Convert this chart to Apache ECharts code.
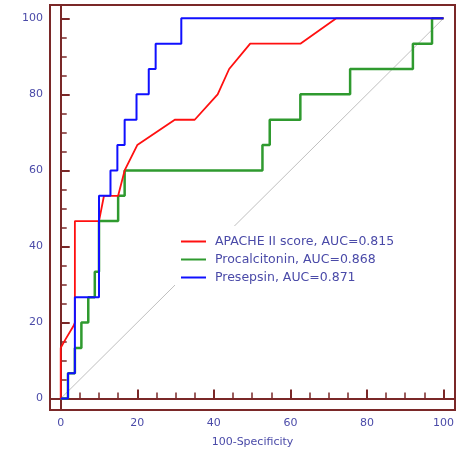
<!DOCTYPE html>
<html>
<head>
<meta charset="utf-8">
<script src="https://cdn.jsdelivr.net/npm/echarts@6/dist/echarts.min.js"></script>
<style>html,body{margin:0;padding:0;background:#fff;}#c{width:459px;height:451px;}</style>
</head>
<body>
<div id="c"></div>
<script>
// ROC curve data (x = 100-Specificity, y = Sensitivity)
const apacheX = [0, 0, 1.2, 3.4, 3.7, 3.7, 10, 11.3, 15, 16.7, 20, 29.8, 35, 41, 44, 49.5, 62.6, 72, 100];
const apacheY = [0, 13.33, 15.5, 19.2, 20, 46.67, 46.67, 53.33, 53.33, 60, 66.67, 73.33, 73.33, 80, 86.67, 93.33, 93.33, 100, 100];

const pctX = [0, 1.9, 1.9, 3.7, 3.7, 5.4, 5.4, 7.2, 7.2, 8.9, 8.9, 10, 10, 15, 15, 16.7, 16.7, 52.7, 52.7, 54.6, 54.6, 62.6, 62.6, 75.6, 75.6, 92, 92, 97, 97, 100];
const pctY = [0, 0, 6.67, 6.67, 13.33, 13.33, 20, 20, 26.67, 26.67, 33.33, 33.33, 46.67, 46.67, 53.33, 53.33, 60, 60, 66.67, 66.67, 73.33, 73.33, 80, 80, 86.67, 86.67, 93.33, 93.33, 100, 100];

const presX = [0, 1.9, 1.9, 3.7, 3.7, 10, 10, 13, 13, 14.8, 14.8, 16.7, 16.7, 19.8, 19.8, 23, 23, 24.8, 24.8, 31.5, 31.5, 100];
const presY = [0, 0, 6.67, 6.67, 26.67, 26.67, 53.33, 53.33, 60, 60, 66.67, 66.67, 73.33, 73.33, 80, 80, 86.67, 86.67, 93.33, 93.33, 100, 100];

const diagX = [0, 100];
const diagY = [0, 100];

const majorTicks = [0, 20, 40, 60, 80, 100];
const minorTicks = [5, 10, 15, 25, 30, 35, 45, 50, 55, 65, 70, 75, 85, 90, 95];

const seriesNames = ['APACHE II score, AUC=0.815', 'Procalcitonin, AUC=0.868', 'Presepsin, AUC=0.871'];
const xTitle = '100-Specificity';

function pairs(xs, ys) { return xs.map((x, i) => [x, ys[i]]); }

const frame = '#7a2828';
const txt = '#4a4aa8';
const font = 'DejaVu Sans';

function mkAxis(type, idx) {
  const isX = type === 'x';
  const base = {
    type: 'value', min: isX ? -2.8 : -3, max: isX ? 103 : 103.5,
    gridIndex: 0, splitLine: { show: false },
    position: isX ? 'bottom' : 'left'
  };
  if (idx === 0) {
    return Object.assign(base, {
      axisLine: { show: true, lineStyle: { color: frame, width: 2 } },
      axisTick: { show: true, inside: true, length: 9, customValues: majorTicks, lineStyle: { color: frame, width: 2 } },
      axisLabel: { show: true, customValues: majorTicks, color: txt, fontFamily: font, fontSize: 11, margin: isX ? 8 : 7 },
      name: isX ? xTitle : '', nameLocation: 'middle', nameGap: 27,
      nameTextStyle: { color: txt, fontFamily: font, fontSize: 11 }
    });
  }
  return Object.assign(base, {
    axisLine: { show: false },
    axisTick: { show: true, inside: true, length: 6, customValues: minorTicks, lineStyle: { color: frame, width: 1.5 } },
    axisLabel: { show: false }
  });
}

const chart = echarts.init(document.getElementById('c'), null, { renderer: 'canvas' });
chart.setOption({
  animation: false,
  backgroundColor: '#fff',
  grid: { left: 50, right: 4, top: 5, bottom: 41, outerBoundsMode: 'none', containLabel: false,
    show: true, borderColor: frame, borderWidth: 2, backgroundColor: 'transparent' },
  xAxis: [mkAxis('x', 0), mkAxis('x', 1)],
  yAxis: [mkAxis('y', 0), mkAxis('y', 1)],
  legend: {
    data: seriesNames,
    orient: 'vertical',
    left: 175, top: 226,
    padding: [9, 6, 6, 5],
    backgroundColor: '#fff',
    itemWidth: 25, itemHeight: 12, itemGap: 5,
    itemStyle: { color: 'rgba(0,0,0,0)', borderWidth: 0, opacity: 0 },
    textStyle: { color: txt, fontFamily: font, fontSize: 12.5, padding: [0, 0, 0, 4] }
  },
  series: [
    { type: 'line', name: 'diag', data: pairs(diagX, diagY), showSymbol: false, symbol: 'none', silent: true,
      lineStyle: { color: '#c0c0c0', width: 1 }, z: 1 },
    { type: 'line', name: seriesNames[1], data: pairs(pctX, pctY), symbol: 'none',
      lineStyle: { color: '#2f9a2f', width: 2.5 }, itemStyle: { color: '#2f9a2f' }, z: 2 },
    { type: 'line', name: seriesNames[0], data: pairs(apacheX, apacheY), symbol: 'none',
      lineStyle: { color: '#ff1010', width: 1.8 }, itemStyle: { color: '#ff1010' }, z: 3 },
    { type: 'line', name: seriesNames[2], data: pairs(presX, presY), symbol: 'none',
      lineStyle: { color: '#1010ff', width: 2 }, itemStyle: { color: '#1010ff' }, z: 4 }
  ]
});
</script>
</body>
</html>
